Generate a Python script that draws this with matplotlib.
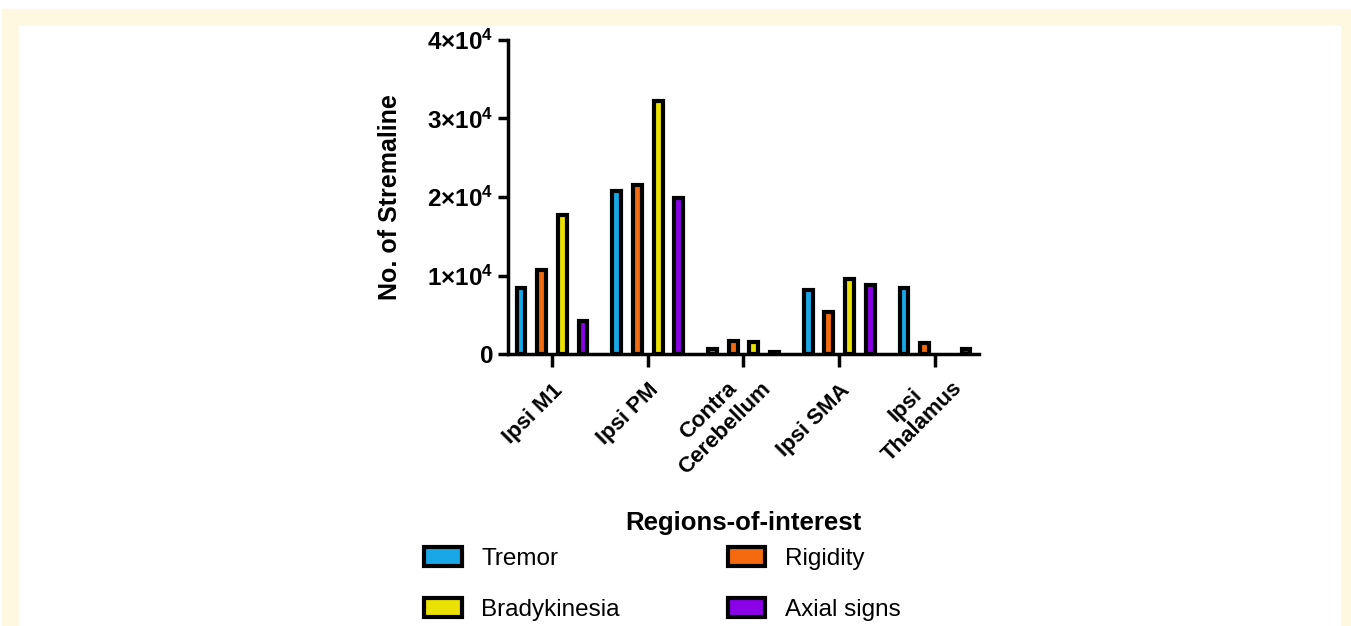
import numpy as np
import matplotlib
matplotlib.use("Agg")
import matplotlib.pyplot as plt
from matplotlib.patches import Rectangle
from matplotlib.transforms import ScaledTranslation
from matplotlib.ticker import FixedLocator, FuncFormatter

plt.rcParams["font.family"] = ["Liberation Sans", "DejaVu Sans"]
plt.rcParams["mathtext.fontset"] = "custom"
plt.rcParams["mathtext.rm"] = "Liberation Sans:bold"
plt.rcParams["mathtext.bf"] = "Liberation Sans:bold"
plt.rcParams["mathtext.it"] = "Liberation Sans:bold"

# ── data ─────────────────────────────────────────────────────────
regions = ["Ipsi M1", "Ipsi PM", "Contra\nCerebellum", "Ipsi SMA", "Ipsi\nThalamus"]
series = ["Tremor", "Rigidity", "Bradykinesia", "Axial signs"]
tremor = [8400, 20800, 600, 8100, 8400]
rigidity = [10700, 21500, 1600, 5400, 1400]
bradykinesia = [17700, 32200, 1500, 9600, np.nan]
axial = [4200, 19900, 300, 8800, 700]
values = [tremor, rigidity, bradykinesia, axial]
colors = ["#18a8e8", "#f56a0f", "#ebe100", "#8a00e8"]
yticks = [0, 10000, 20000, 30000, 40000]

# ── figure ───────────────────────────────────────────────────────
W, H = 1351, 626
fig = plt.figure(figsize=(W / 100, H / 100), dpi=100, facecolor="white")

# cream page frame
cream = "#fff8e1"
fig.patches.append(Rectangle((2 / W, 0), 1 - 2 / W, (H - 9) / H,
                             transform=fig.transFigure, color=cream, zorder=-10))
fig.patches.append(Rectangle((19 / W, 0), (1340 - 19) / W, (H - 26) / H,
                             transform=fig.transFigure, color="white", zorder=-9))

ax = fig.add_axes([508 / W, 1 - 354 / H, (979 - 508) / W, (354 - 40) / H])
ax.set_facecolor("none")

x = np.arange(len(regions))
pitch = 0.216
width = 0.092
bars = []
for i, (name, vals, col) in enumerate(zip(series, values, colors)):
    b = ax.bar(x + (i - 1.5) * pitch, vals, width=width, color=col,
               edgecolor="black", linewidth=3, label=name, zorder=3)
    bars.append(b)

ax.set_xlim(-0.46, len(regions) - 1 + 0.46)
ax.set_ylim(0, 40000)

for s in ["top", "right"]:
    ax.spines[s].set_visible(False)
for s in ["left", "bottom"]:
    ax.spines[s].set_linewidth(2.5)

ax.yaxis.set_major_locator(FixedLocator(yticks))


def sci(v, pos):
    if v == 0:
        return "0"
    m = int(round(v / 1e4))
    return r"$%d{\times}10^{4}$" % m


ax.yaxis.set_major_formatter(FuncFormatter(sci))
ax.tick_params(axis="y", length=7.5, width=2.5, labelsize=17.5, pad=3)
ax.tick_params(axis="x", length=9, width=2.5, labelsize=16, pad=9.5)
for t in ax.get_yticklabels():
    t.set_fontweight("bold")

ax.set_xticks(x)
ax.set_xticklabels(regions, rotation=45, ha="right", va="top",
                   rotation_mode="anchor", multialignment="center",
                   linespacing=1.2, fontweight="bold")
# two-line labels sit higher, so their two line ends straddle the tick
for t in ax.get_xticklabels():
    if "\n" in t.get_text():
        t.set_transform(t.get_transform() +
                        ScaledTranslation(0, 19 / 100, fig.dpi_scale_trans))

ax.set_ylabel("No. of Stremaline", fontsize=18, fontweight="bold")
ax.yaxis.set_label_coords(-0.225, 0.5)
ax.set_xlabel("Regions-of-interest", fontsize=18.5, fontweight="bold")
ax.xaxis.set_label_coords(0.5, -0.50)

handles = [bars[0], bars[2], bars[1], bars[3]]
labels = [series[0], series[2], series[1], series[3]]
leg = fig.legend(handles, labels, ncol=2, loc="upper left",
                 bbox_to_anchor=(424 / W, 1 - 547 / H),
                 frameon=False, fontsize=17.5, handlelength=1.55,
                 handleheight=0.85, handletextpad=0.8, columnspacing=4.45,
                 labelspacing=1.13, borderaxespad=0, borderpad=0)

fig.savefig("out.png", dpi=100, facecolor=fig.get_facecolor())
